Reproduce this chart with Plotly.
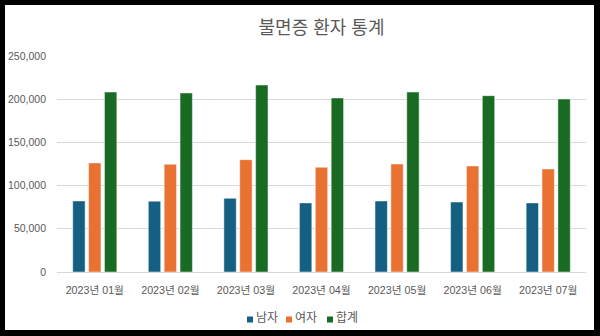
import plotly.graph_objects as go

categories = ["2023년 01월", "2023년 02월", "2023년 03월", "2023년 04월",
              "2023년 05월", "2023년 06월", "2023년 07월"]
male = [82200, 82000, 85300, 80000, 82200, 81000, 80000]
female = [126200, 124700, 130000, 121200, 125000, 122700, 119200]
total = [208300, 207200, 216400, 201400, 208300, 204100, 200200]
series_names = ["남자", "여자", "합계"]
colors = ["#156082", "#E97132", "#196B24"]
y_ticks = [0, 50000, 100000, 150000, 200000, 250000]

W, H = 600, 336
ML, MR, MT, MB = 57, 14, 56, 64
PW, PH = W - ML - MR, H - MT - MB

def px_x(p):
    return (p - ML) / PW

def px_y(p):
    return (H - MB - p) / PH

FONT = "Liberation Sans, Arial, 'Noto Sans CJK KR', sans-serif"

fig = go.Figure()
for name, vals, c in zip(series_names, [male, female, total], colors):
    fig.add_trace(go.Bar(
        x=categories, y=vals, name=name, showlegend=False,
        marker=dict(color=c, line=dict(color="rgba(255,255,255,0.6)", width=0.8)),
    ))

shapes = [dict(type="rect", xref="paper", yref="paper",
               x0=px_x(5), x1=px_x(594), y0=px_y(330), y1=px_y(5),
               fillcolor="#FFFFFF", line=dict(width=0), layer="below")]
annotations = []
# legend (square + label), laid out like the reference
leg_sq_x = [247, 286, 327]
for name, c, sx in zip(series_names, colors, leg_sq_x):
    shapes.append(dict(type="rect", xref="paper", yref="paper",
                       x0=px_x(sx), x1=px_x(sx + 6), y0=px_y(322.5), y1=px_y(316.5),
                       fillcolor=c, line=dict(width=0)))
    annotations.append(dict(text=name, xref="paper", yref="paper",
                            x=px_x(sx + 7), y=px_y(318), xanchor="left", yanchor="middle",
                            showarrow=False, font=dict(size=12, color="#595959")))

fig.update_layout(
    width=W, height=H,
    margin=dict(l=ML, r=MR, t=MT, b=MB, autoexpand=False),
    paper_bgcolor="#000000",
    plot_bgcolor="rgba(0,0,0,0)",
    barmode="group",
    bargap=0.37,
    bargroupgap=0.22,
    showlegend=False,
    font=dict(family=FONT, color="#595959", size=11),
    title=dict(text="불면증 환자 통계", x=0.5, xref="paper", xanchor="center",
               y=1 - 28 / H, yref="container", yanchor="middle",
               font=dict(family=FONT, size=18, color="#595959")),
    xaxis=dict(showgrid=False, showline=False, ticks="",
               tickfont=dict(size=10.7, color="#595959"), ticklabelstandoff=10),
    yaxis=dict(range=[0, 250000], tickvals=y_ticks, tickformat=",d",
               showgrid=True, gridcolor="#D9D9D9", gridwidth=1,
               zeroline=True, zerolinecolor="#D9D9D9", zerolinewidth=1,
               showline=False, ticks="", ticklabelstandoff=10,
               tickfont=dict(size=10.5, color="#595959")),
    shapes=shapes,
    annotations=annotations,
)

fig.write_html("out.html")
